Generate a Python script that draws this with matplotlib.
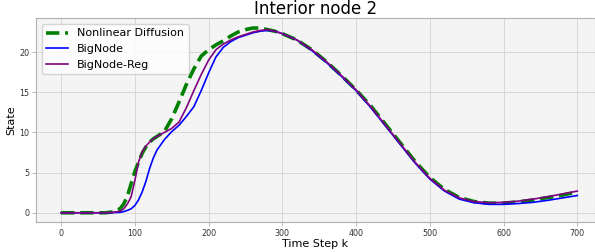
import matplotlib
matplotlib.use("Agg")
import matplotlib.pyplot as plt

# time steps where values were read
steps = [0, 20, 40, 60, 70, 80, 85, 90, 95, 100, 105, 110, 115, 120, 125, 130,
         140, 150, 160, 170, 180, 190, 200, 210, 220, 230, 240, 250, 260, 270,
         280, 290, 300, 320, 340, 360, 380, 400, 420, 440, 460, 480, 500, 520,
         540, 560, 580, 600, 620, 640, 660, 680, 700]

nonlinear_diffusion = [0.0, 0.0, 0.0, 0.0, 0.1, 0.5, 1.1, 2.1, 3.6, 5.1, 6.3, 7.4,
                       8.2, 8.8, 9.2, 9.5, 10.1, 11.7, 13.8, 16.0, 17.9, 19.5,
                       20.3, 20.9, 21.4, 22.0, 22.5, 22.8, 23.0, 23.0, 22.8, 22.6,
                       22.3, 21.5, 20.3, 18.8, 17.1, 15.3, 13.3, 11.0, 8.7, 6.4,
                       4.4, 2.9, 1.9, 1.4, 1.2, 1.2, 1.35, 1.6, 1.9, 2.2, 2.6]

bignode = [0.0, 0.0, 0.0, 0.0, 0.02, 0.05, 0.15, 0.3, 0.5, 0.9, 1.6, 2.6, 3.9,
           5.5, 6.8, 7.8, 9.1, 10.1, 10.9, 12.0, 13.2, 15.2, 17.4, 19.4, 20.6,
           21.3, 21.8, 22.1, 22.4, 22.6, 22.7, 22.6, 22.3, 21.5, 20.2, 18.7,
           17.0, 15.2, 13.1, 10.8, 8.5, 6.2, 4.2, 2.7, 1.7, 1.25, 1.05, 1.05,
           1.15, 1.3, 1.55, 1.85, 2.15]

bignode_reg = [0.0, 0.0, 0.0, 0.0, 0.05, 0.2, 0.5, 1.1, 2.0, 4.0, 6.3, 7.6, 8.3,
               8.8, 9.2, 9.5, 10.0, 10.5, 11.3, 13.1, 15.2, 17.2, 19.0, 20.3,
               21.0, 21.5, 21.9, 22.2, 22.5, 22.7, 22.8, 22.6, 22.3, 21.5, 20.3,
               18.8, 17.1, 15.3, 13.2, 10.9, 8.6, 6.3, 4.3, 2.8, 1.85, 1.4, 1.25,
               1.3, 1.45, 1.7, 2.0, 2.35, 2.7]

fig = plt.figure(figsize=(5.95, 2.52), dpi=100)
ax = fig.add_axes([0.0605, 0.119, 0.9395, 0.808])
ax.set_facecolor('#f4f4f4')

ax.plot(steps, nonlinear_diffusion, '--', color='green', linewidth=2.6,
        label='Nonlinear Diffusion')
ax.plot(steps, bignode, color='blue', linewidth=1.2, label='BigNode')
ax.plot(steps, bignode_reg, color='purple', linewidth=1.2, label='BigNode-Reg')

ax.set_xlim(-34, 724)
ax.set_ylim(-1.15, 24.2)
ax.set_xticks([0, 100, 200, 300, 400, 500, 600, 700])
ax.set_yticks([0, 5, 10, 15, 20])
ax.tick_params(labelsize=5.8, length=3, width=0.6, color='#b0b0b0',
               labelcolor='#333333', pad=2)
ax.grid(True, color='#d8d8d8', linewidth=0.7)
ax.set_axisbelow(True)
for s in ax.spines.values():
    s.set_color('#b0b0b0')

ax.set_title('Interior node 2', fontsize=12, pad=2)
ax.set_xlabel('Time Step k', fontsize=8, labelpad=1)
ax.set_ylabel('State', fontsize=8, labelpad=2)
ax.legend(loc='upper left', fontsize=8, framealpha=0.8)

plt.savefig('out.png', dpi=100)
